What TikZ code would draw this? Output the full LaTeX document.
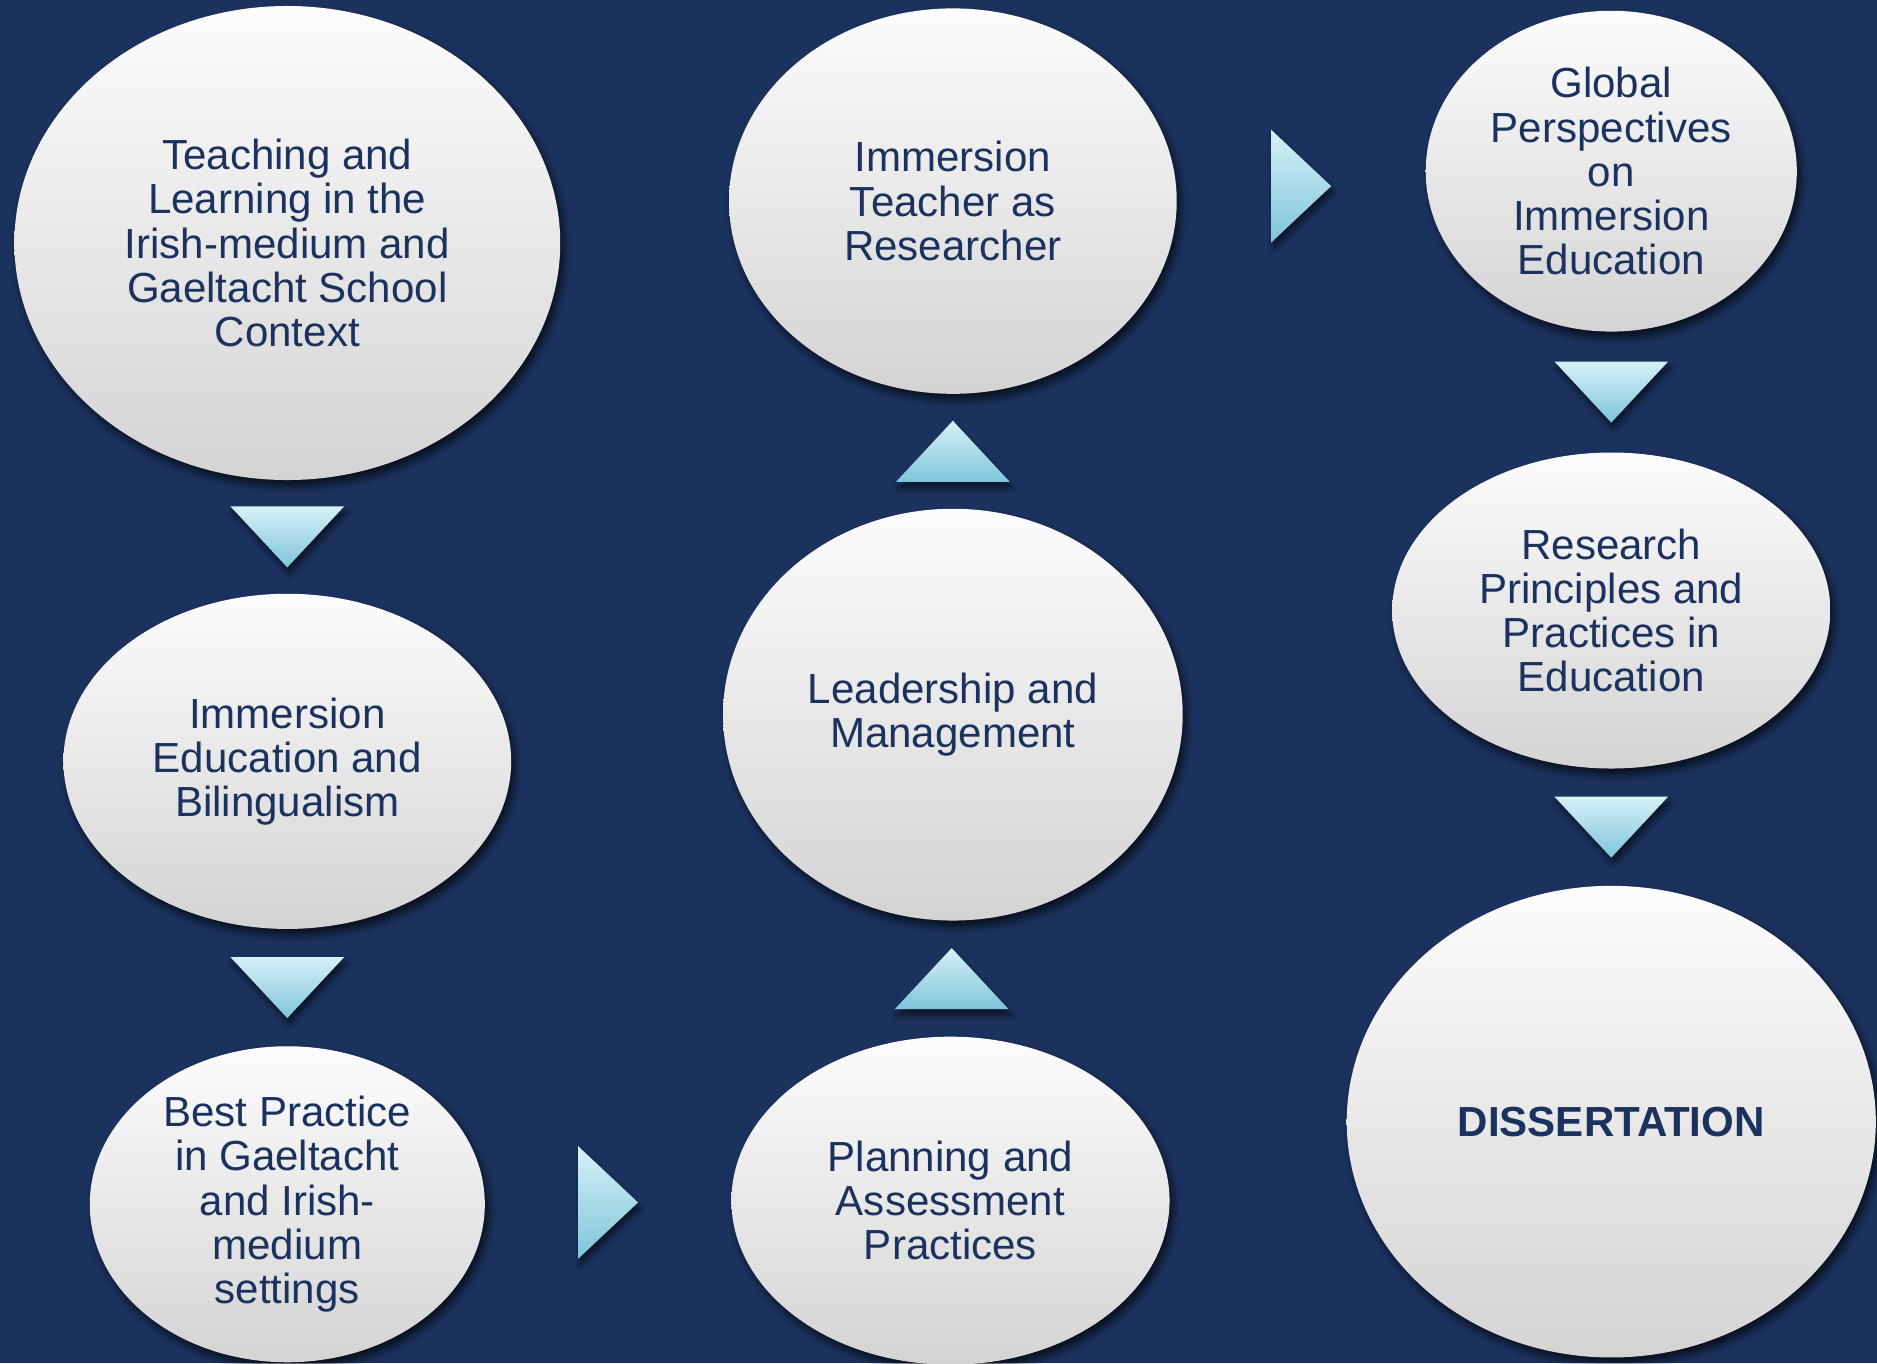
\documentclass[tikz,border=0pt]{standalone}
\usepackage{fontspec}
\setmainfont{Liberation Sans}
\usetikzlibrary{positioning,shapes.geometric,shadows.blur,calc}
\definecolor{navy}{RGB}{27,50,94}
\definecolor{pale}{RGB}{214,240,246}
\definecolor{sky}{RGB}{126,197,219}

\begin{document}
\begin{tikzpicture}[
  topic/.style={ellipse, top color=black!1, bottom color=black!17, inner sep=0pt,
                font=\fontsize{10}{10.5}\selectfont, text=navy, align=center,
                blur shadow={shadow xshift=0.3mm, shadow yshift=-0.5mm,
                             shadow blur radius=0.6mm, shadow blur steps=6, shadow opacity=70}},
  tri/.style={top color=pale, bottom color=sky,
              blur shadow={shadow xshift=0.2mm, shadow yshift=-0.5mm,
                           shadow blur radius=0.5mm, shadow blur steps=5, shadow opacity=60}},
]

\fill[navy] (0,0) rectangle (15.68,11.39);
\useasboundingbox (0,0) rectangle (15.68,11.39);

% first column, top to bottom
\node[topic, minimum width=4.56cm, minimum height=3.96cm] (tl) at (2.40, 9.36)
  {Teaching and\\Learning in the\\Irish-medium and\\Gaeltacht School\\Context};
\node[topic, minimum width=3.74cm, minimum height=2.80cm] (ieb) at (2.40, 5.03)
  {Immersion\\Education and\\Bilingualism};
\node[topic, minimum width=3.30cm, minimum height=2.64cm] (bp) at (2.40, 1.33)
  {Best Practice\\in Gaeltacht\\and Irish-\\medium\\settings};

% second column, bottom to top
\node[topic, minimum width=3.66cm, minimum height=2.74cm] (pa) at (7.94, 1.36)
  {Planning and\\Assessment\\Practices};
\node[topic, minimum width=3.84cm, minimum height=3.44cm] (lm) at (7.96, 5.42)
  {Leadership and\\Management};
\node[topic, minimum width=3.74cm, minimum height=3.22cm] (itr) at (7.96, 9.71)
  {Immersion\\Teacher as\\Researcher};

% third column, top to bottom
\node[topic, minimum width=3.10cm, minimum height=2.68cm] (gp) at (13.46, 9.96)
  {Global\\Perspectives\\on\\Immersion\\Education};
\node[topic, minimum width=3.66cm, minimum height=2.64cm] (rp) at (13.46, 6.29)
  {Research\\Principles and\\Practices in\\Education};
\node[topic, minimum width=4.42cm, minimum height=3.94cm, font=\fontsize{10}{10.5}\selectfont\bfseries] (diss) at (13.46, 2.02)
  {DISSERTATION};

% triangle arrows between the ellipses
\foreach \a/\b in {tl/ieb, ieb/bp, gp/rp, rp/diss}
  \shade[tri, shift={($(\a.south)!0.5!(\b.north)$)}]
    (-0.475,0.255) -- (0.475,0.255) -- (0,-0.255) -- cycle;

\foreach \a/\b in {pa/lm, lm/itr}
  \shade[tri, shift={($(\a.north)!0.5!(\b.south)$)}]
    (-0.475,-0.255) -- (0.475,-0.255) -- (0,0.255) -- cycle;

\foreach \a/\b in {bp/pa, itr/gp}
  \shade[tri, shift={($(\a.east)!0.5!(\b.west)$)}]
    (-0.25,0.47) -- (0.25,0) -- (-0.25,-0.47) -- cycle;

\end{tikzpicture}
\end{document}
